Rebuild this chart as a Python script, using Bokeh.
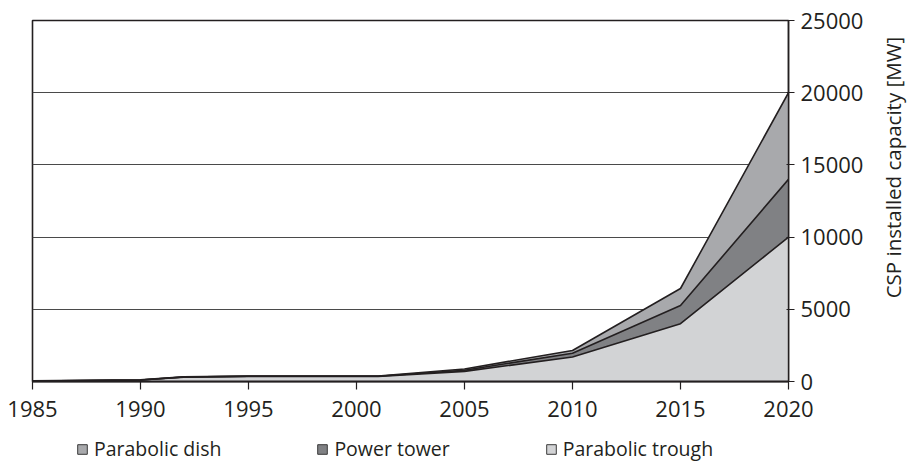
import numpy as np
from bokeh.plotting import figure
from bokeh.layouts import row, column
from bokeh.models import (ColumnDataSource, FixedTicker, Range1d, Legend, LegendItem, Label)
from bokeh.embed import file_html
from bokeh.resources import INLINE

# ---- data (MW, values per technology, stacked) ----
years = [1985, 1990, 1992, 1995, 2000, 2001, 2005, 2010, 2015, 2020]
trough = [30, 100, 300, 354, 354, 354, 700, 1700, 4000, 10000]
tower = [5, 5, 10, 10, 10, 10, 80, 260, 1260, 4000]
dish = [5, 5, 10, 10, 20, 20, 90, 190, 1180, 6000]

series_names = ["trough", "tower", "dish"]
series_labels = ["Parabolic trough", "Power tower", "Parabolic dish"]
series_colors = ["#d2d3d5", "#808184", "#a8a9ac"]

x_ticks = [1985, 1990, 1995, 2000, 2005, 2010, 2015, 2020]
y_ticks = [0, 5000, 10000, 15000, 20000, 25000]
y_title = "CSP installed capacity [MW]"

FONT = "Open Sans"
TXT = "#231f20"

MAIN_W, MAIN_H = 875, 431
LEG_H = 33
TITLE_W = 32

src = ColumnDataSource(dict(year=years, trough=trough, tower=tower, dish=dish))

p = figure(width=MAIN_W, height=MAIN_H, output_backend="svg", toolbar_location=None,
           x_range=Range1d(1985, 2020), y_range=Range1d(0, 25000),
           y_axis_location="right",
           min_border_left=32, min_border_top=20, min_border_right=87,
           min_border_bottom=50)

p.varea_stack(stackers=series_names, x="year", color=series_colors, source=src,
              alpha=1.0)
p.vline_stack(stackers=series_names, x="year", color=TXT, line_width=1.6, source=src)

# styling
p.background_fill_color = "white"
p.border_fill_color = "white"
p.outline_line_color = TXT
p.outline_line_width = 1.6
p.xgrid.visible = False
p.ygrid.grid_line_color = "#4a4a4a"
p.ygrid.grid_line_width = 1.2
p.ygrid.level = "underlay"

xa = p.xaxis[0]
xa.ticker = FixedTicker(ticks=x_ticks)
xa.minor_tick_line_color = None
xa.major_tick_in = 0
xa.major_tick_out = 8
xa.axis_line_color = TXT
xa.axis_line_width = 2
xa.major_tick_line_color = TXT
xa.major_tick_line_width = 1.2
xa.major_label_text_font = FONT
xa.major_label_text_font_size = "22px"
xa.major_label_text_color = TXT
xa.major_label_standoff = 11

ya = p.yaxis[0]
ya.ticker = FixedTicker(ticks=y_ticks)
ya.minor_tick_line_color = None
ya.major_tick_in = 2
ya.major_tick_out = 6
ya.axis_line_color = TXT
ya.axis_line_width = 1.4
ya.major_tick_line_color = TXT
ya.major_tick_line_width = 1.2
ya.major_label_text_font = FONT
ya.major_label_text_font_size = "22px"
ya.major_label_text_color = TXT
ya.major_label_standoff = 6

# ---- legend strip below the chart ----
leg_fig = figure(width=MAIN_W, height=LEG_H, output_backend="svg", toolbar_location=None,
                 x_axis_type=None, y_axis_type=None, min_border=0,
                 x_range=Range1d(0, 1), y_range=Range1d(0, 1))
leg_fig.outline_line_color = None
leg_fig.background_fill_color = "white"
leg_fig.border_fill_color = "white"

items = []
for name, label, color in reversed(list(zip(series_names, series_labels, series_colors))):
    r = leg_fig.rect(x=[np.nan], y=[np.nan], width=1, height=1, fill_color=color,
                     line_color="#3a3a3a", line_width=1)
    items.append(LegendItem(label=label, renderers=[r]))

legend = Legend(items=items, orientation="horizontal", location=(44, 2),
                label_text_font=FONT, label_text_font_size="19.5px", label_text_color=TXT,
                glyph_width=12, glyph_height=12, label_standoff=6, spacing=95,
                padding=0, margin=0,
                border_line_color=None, background_fill_alpha=0)
leg_fig.add_layout(legend)

# ---- rotated y-axis title strip on the right ----
title_fig = figure(width=TITLE_W, height=MAIN_H + LEG_H, output_backend="svg",
                   toolbar_location=None, x_axis_type=None, y_axis_type=None, min_border=0,
                   x_range=Range1d(0, TITLE_W), y_range=Range1d(0, MAIN_H + LEG_H))
title_fig.outline_line_color = None
title_fig.background_fill_color = "white"
title_fig.border_fill_color = "white"
title_fig.add_layout(Label(x=17, y=MAIN_H + LEG_H - 167, text=y_title, angle=np.pi / 2,
                           text_align="center", text_baseline="middle",
                           text_font=FONT, text_font_size="20.5px", text_color=TXT))

layout = row(column(p, leg_fig, spacing=0), title_fig, spacing=0)

open("out.html", "w").write(file_html(layout, INLINE))
